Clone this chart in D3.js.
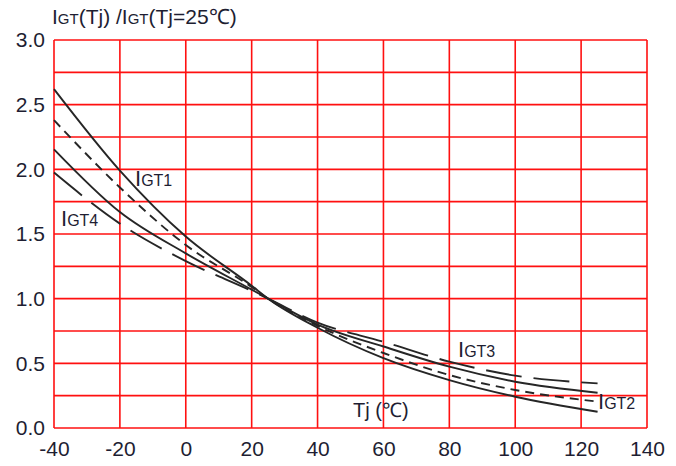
<!DOCTYPE html>
<html lang="en">
<head>
<meta charset="UTF-8">
<title>IGT vs Tj</title>
<script src="https://d3js.org/d3.v7.js"></script>
<style>
body{
    margin: 0;
    background: #fff;
}
svg{
    display: block;
}
text{
    font-family: "Liberation Sans", Arial, sans-serif;
    fill: #1e1e32;
}
.grid line{
    stroke: #ff1010;
    stroke-width: 1.6;
}
.curve{
    fill: none;
    stroke: #262626;
    stroke-width: 1.9;
}
</style>
</head>
<body>
<svg id="chart" width="676" height="466"></svg>
<script>
    const width = 676, height = 466

    // data
    const tj = [-40, -20, 0, 20, 25, 40, 60, 80, 100, 125]
    const igt1 = [2.62, 1.99, 1.48, 1.10, 1.0, 0.775, 0.54, 0.37, 0.242, 0.126]
    const igt2 = [2.38, 1.86, 1.415, 1.09, 1.0, 0.79, 0.58, 0.41, 0.294, 0.204]
    const igt3 = [2.155, 1.67, 1.35, 1.07, 1.0, 0.80, 0.63, 0.474, 0.358, 0.273]
    const igt4 = [1.975, 1.58, 1.29, 1.06, 1.0, 0.815, 0.667, 0.513, 0.405, 0.345]
    const xTicks = [-40, -20, 0, 20, 40, 60, 80, 100, 120, 140]
    const yTicks = [0, 0.5, 1.0, 1.5, 2.0, 2.5, 3.0]
    const yGrid = d3.range(0, 3.01, 0.25)

    const x = d3.scaleLinear().domain([-40, 140]).range([54, 647])
    const y = d3.scaleLinear().domain([0, 3]).range([428, 40])

    const svg = d3.select('#chart')

    // grid
    const grid = svg.append('g').classed('grid', true)
    grid.selectAll('.v')
        .data(xTicks)
        .join('line')
        .attr('x1', d => x(d)).attr('x2', d => x(d))
        .attr('y1', y(0)).attr('y2', y(3))
    grid.selectAll('.h')
        .data(yGrid)
        .join('line')
        .attr('x1', x(-40)).attr('x2', x(140))
        .attr('y1', d => y(d)).attr('y2', d => y(d))

    // axes (labels only)
    svg.append('g')
        .attr('transform', `translate(0,${y(0)})`)
        .call(d3.axisBottom(x).tickValues(xTicks).tickSize(0).tickPadding(13).tickFormat(d => String(d)))
    svg.append('g')
        .attr('transform', `translate(${x(-40)},0)`)
        .call(d3.axisLeft(y).tickValues(yTicks).tickSize(0).tickPadding(9).tickFormat(d => d.toFixed(1)))
    svg.selectAll('.domain').remove()
    svg.selectAll('.tick text')
        .attr('font-family', null)
        .style('font-size', '21px')

    // curves
    const line = d3.line()
        .x(d => x(d[0]))
        .y(d => y(d[1]))
        .curve(d3.curveMonotoneX)
    const series = [
        {name: 'IGT1', values: igt1, dash: null},
        {name: 'IGT2', values: igt2, dash: '9,6'},
        {name: 'IGT3', values: igt3, dash: null},
        {name: 'IGT4', values: igt4, dash: '36,12'}
    ]
    svg.append('g').selectAll('path')
        .data(series)
        .join('path')
        .classed('curve', true)
        .attr('stroke-dasharray', d => d.dash)
        .attr('d', d => line(tj.map((t, i) => [t, d.values[i]])))

    // "I" + small "GT" text helper
    function igt(sel, parts, big, small){
        parts.forEach(p => {
            sel.append('tspan').text(p[0]).style('font-size', (p[1] ? small : big) + 'px')
        })
    }

    const title = svg.append('text').attr('x', 52).attr('y', 24)
    igt(title, [['I',0],['GT',1],['(Tj) /',0],['I',0],['GT',1],['(Tj=25℃)',0]], 21, 15)

    const labels = [
        {t: '1', x: 135, y: 186},
        {t: '4', x: 61, y: 226},
        {t: '3', x: 458, y: 357},
        {t: '2', x: 598, y: 409}
    ]
    labels.forEach(l => {
        const tx = svg.append('text').attr('x', l.x).attr('y', l.y)
        igt(tx, [['I',0],['GT' + l.t,1]], 22, 16)
    })

    svg.append('text')
        .attr('x', 353).attr('y', 417)
        .style('font-size', '20px')
        .text('Tj (℃)')
</script>
</body>
</html>
